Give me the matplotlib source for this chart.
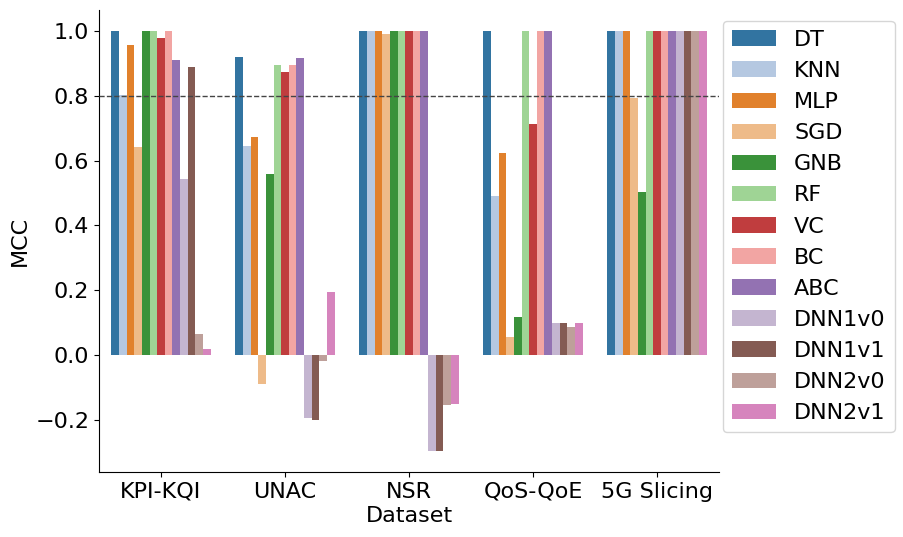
import matplotlib
matplotlib.use("Agg")
import matplotlib.pyplot as plt
import seaborn as sns
import pandas as pd

datasets = ["KPI-KQI", "UNAC", "NSR", "QoS-QoE", "5G Slicing"]
models = ["DT", "KNN", "MLP", "SGD", "GNB", "RF", "VC", "BC", "ABC",
          "DNN1v0", "DNN1v1", "DNN2v0", "DNN2v1"]

# MCC per model, one value per dataset (order as in datasets)
mcc = {
    "DT":     [1.000, 0.920, 1.000, 1.000, 1.000],
    "KNN":    [0.802, 0.645, 1.000, 0.491, 1.000],
    "MLP":    [0.957, 0.673, 1.000, 0.623, 1.000],
    "SGD":    [0.642, -0.090, 0.991, 0.056, 0.793],
    "GNB":    [1.000, 0.559, 1.000, 0.117, 0.503],
    "RF":     [1.000, 0.895, 1.000, 1.000, 1.000],
    "VC":     [0.978, 0.873, 1.000, 0.713, 1.000],
    "BC":     [1.000, 0.895, 1.000, 1.000, 1.000],
    "ABC":    [0.910, 0.917, 1.000, 1.000, 1.000],
    "DNN1v0": [0.543, -0.194, -0.296, 0.099, 1.000],
    "DNN1v1": [0.889, -0.201, -0.296, 0.099, 1.000],
    "DNN2v0": [0.065, -0.019, -0.154, 0.086, 1.000],
    "DNN2v1": [0.019, 0.194, -0.151, 0.099, 1.000],
}

rows = []
for m in models:
    for d, v in zip(datasets, mcc[m]):
        rows.append({"Dataset": d, "Model": m, "MCC": v})
df = pd.DataFrame(rows)

plt.rcParams["font.size"] = 16
fig = plt.figure(figsize=(9.04, 5.37), dpi=100)
ax = fig.add_axes([99/904, (537-472)/537, 620/904, 462/537])

sns.barplot(data=df, x="Dataset", y="MCC", hue="Model", palette="tab20",
            hue_order=models, order=datasets, ax=ax)
ax.axhline(0.8, color="#444444", linestyle="--", linewidth=1, zorder=5)
sns.despine(ax=ax)
ax.legend(loc="upper left", bbox_to_anchor=(624/620, 451/462), fontsize=16,
          borderaxespad=0, labelspacing=0.5)
ax.set_xlabel("Dataset", labelpad=3)
ax.set_ylabel("MCC")

fig.savefig("out.png", dpi=100)
